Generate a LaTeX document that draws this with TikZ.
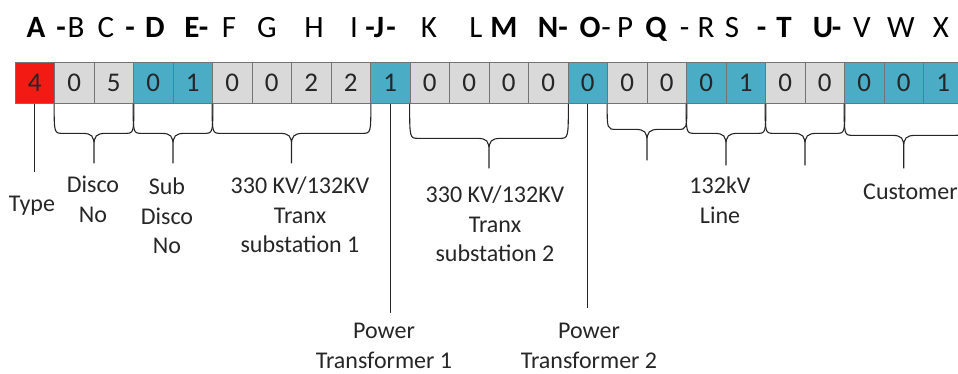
\documentclass[tikz,border=0pt]{standalone}
\usepackage{fontspec}
\setmainfont{Carlito}
\usepackage{tikz}
\usetikzlibrary{calc}

\definecolor{cred}{HTML}{F41A14}
\definecolor{cgray}{HTML}{D9D9D9}
\definecolor{cblue}{HTML}{4BACC6}

\tikzset{
  cell/.style={draw=black!55, line width=0.7pt, minimum width=39.5pt, minimum height=41.5pt,
    inner sep=0pt, text=black!85, font=\fontsize{27}{29}\selectfont},
  head/.style={anchor=base, inner sep=0pt, font=\fontsize{31}{33}\selectfont},
  headb/.style={anchor=base, inner sep=0pt, font=\fontsize{31}{33}\selectfont\bfseries},
  lbl/.style={anchor=north, inner sep=0pt, align=center, text=black!85,
    font=\fontsize{24}{29.5}\selectfont},
  leader/.style={line width=1.1pt, black!85},
  bracket/.style={line width=1.1pt, black!85}
}

% brace under cells #1..#2, horizontal part #3 below, tip #4 below
\newcommand{\codebrace}[4]{%
  \draw[bracket] let \p1=(#1.south west), \p2=(#2.south east), \n1={(\x1+\x2)/2} in
    (\p1) .. controls (\x1,\y1-#3) .. (\x1+9pt,\y1-#3) -- (\n1-12pt,\y1-#3)
      .. controls (\n1-2pt,\y1-#3) and (\n1,\y1-#3-3pt) .. (\n1,\y1-#3-12pt) -- (\n1,\y1-#4)
    (\p2) .. controls (\x2,\y1-#3) .. (\x2-9pt,\y1-#3) -- (\n1+12pt,\y1-#3)
      .. controls (\n1+2pt,\y1-#3) and (\n1,\y1-#3-3pt) .. (\n1,\y1-#3-12pt);}

\begin{document}
\begin{tikzpicture}[x=1pt,y=-1pt]

	\useasboundingbox (0,0) rectangle (958,374);

	% header letters
	\foreach \x/\t in {76/B,106/C,229/F,267/G,314/H,354/I,429/K,476/L,606/-,625/P,684.5/-,706/R,732/S,862/V,901/W,941/X}
		\node[head] at (\x,38) {\t};
	\foreach \x/\t in {36/A,61/-,130/-,155/D,192/E,203.5/-,370/-,379/J,391/-,504/M,548/N,563/-,590/O,656/Q,761.5/-,784/T,823/U,836.5/-}
		\node[headb] at (\x,38) {\t};

	% code cells
	\foreach \d/\c [count=\i] in {4/cred,0/cgray,5/cgray,0/cblue,1/cblue,0/cgray,0/cgray,2/cgray,2/cgray,1/cblue,
		0/cgray,0/cgray,0/cgray,0/cgray,0/cblue,0/cgray,0/cgray,0/cblue,1/cblue,0/cgray,0/cgray,0/cblue,0/cblue,1/cblue}
		\node[cell, fill=\c] (c\i) at ({15+39.5*(\i-0.5)},82.75) {\raisebox{-1pt}{\d}};

	% braces
	\codebrace{c2}{c3}{29.5pt}{59.5pt}
	\codebrace{c4}{c5}{29.5pt}{59.5pt}
	\codebrace{c6}{c9}{29.5pt}{59.5pt}
	\codebrace{c11}{c14}{34.5pt}{64.5pt}
	\codebrace{c16}{c17}{25.5pt}{56.5pt}
	\codebrace{c18}{c19}{29.5pt}{61.5pt}
	\codebrace{c20}{c21}{29.5pt}{61.5pt}
	\codebrace{c22}{c24}{31.5pt}{64.5pt}

	% labels
	\node[lbl] (type) at (32,196) {Type};
	\node[lbl] (disco) at (93,176) {Disco\\No};
	\node[lbl] (subdisco) at (167,178) {Sub\\Disco\\No};
	\node[lbl] (tranx1) at (300,177) {330 KV/132KV\\Tranx\\substation 1};
	\node[lbl] (tranx2) at (495,186) {330 KV/132KV\\Tranx\\substation 2};
	\node[lbl] (line) at (720,177) {132kV\\Line};
	\node[lbl, anchor=north west] (cust) at (863,184) {Customer};
	\node[lbl] (pt1) at (384,323) {Power\\Transformer 1};
	\node[lbl] (pt2) at (589,323) {Power\\Transformer 2};

	% leaders
	\coordinate (typeend) at (c1.south |- 0,172);
	\coordinate (pt1end) at (c10.south |- 0,313);
	\coordinate (pt2end) at (c15.south |- 0,308);
	\draw[leader] (c1.south) -- (typeend);
	\draw[leader] (c10.south) -- (pt1end);
	\draw[leader] (c15.south) -- (pt2end);

\end{tikzpicture}
\end{document}
